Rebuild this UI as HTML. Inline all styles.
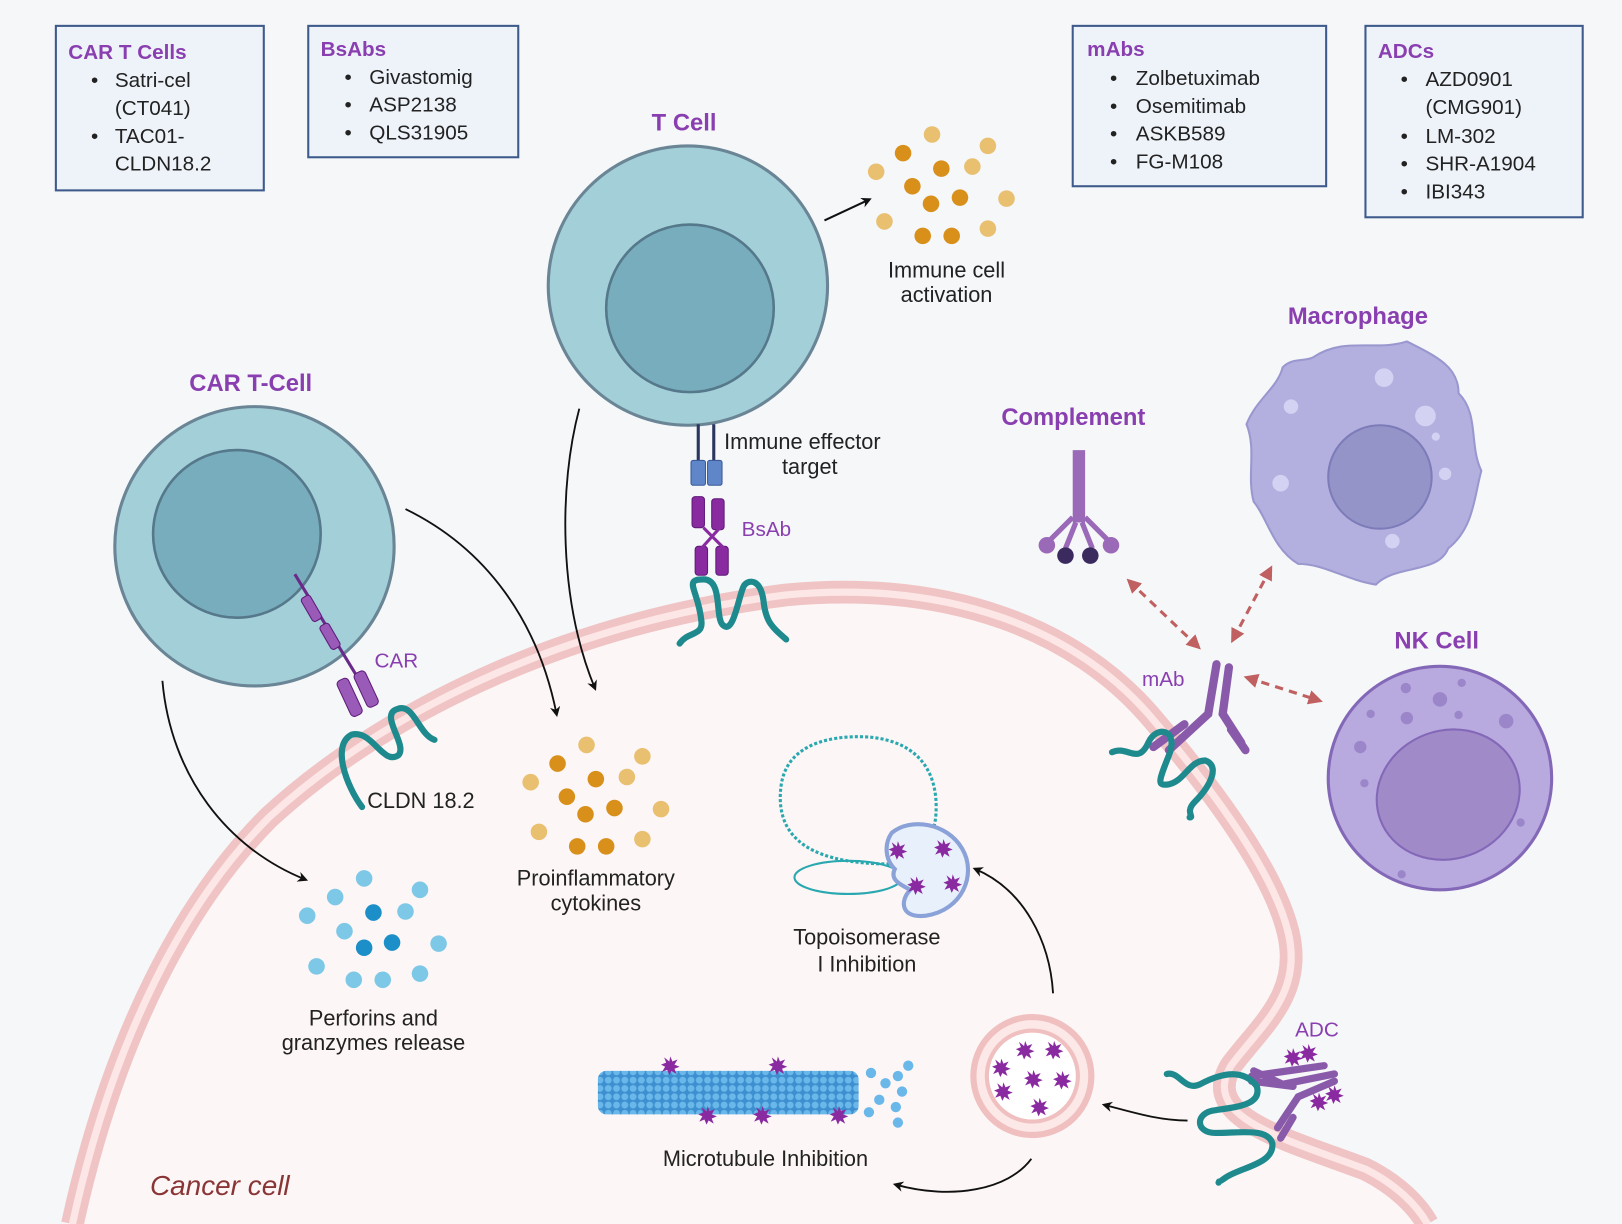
<!DOCTYPE html>
<html><head><meta charset="utf-8"><style>
html,body{margin:0;padding:0;background:#f5f7f9}
svg{display:block}
text{font-family:"Liberation Sans",sans-serif}
.t{font-size:21px;fill:#222}
.h{font-size:22px;font-weight:bold;fill:#8a3fb0}
.p{font-size:20px;fill:#8a3fb0}
</style></head><body>
<svg width="1622" height="1224" viewBox="0 0 1568 1183" preserveAspectRatio="none" xmlns="http://www.w3.org/2000/svg">
<defs>
<marker id="ar" markerWidth="10" markerHeight="10" refX="7" refY="5" orient="auto" markerUnits="userSpaceOnUse"><path d="M0,0 L10,5 L0,10 L3,5z" fill="#111"/></marker>
<marker id="rr" markerWidth="14" markerHeight="14" refX="10" refY="7" orient="auto-start-reverse" markerUnits="userSpaceOnUse"><path d="M0,0 L14,7 L0,14z" fill="#c06060"/></marker>
<pattern id="mt" width="8" height="8" patternUnits="userSpaceOnUse"><rect width="8" height="8" fill="#3d8fd0"/><circle cx="4" cy="4" r="3.3" fill="#6ab8ea"/></pattern>
<g id="star"><path d="M0,-9 L2,-4 L7,-6 L4,-1 L9,1 L4,3 L6,8 L1,5 L-1,9 L-3,4 L-8,6 L-5,1 L-9,-1 L-4,-3 L-6,-8 L-1,-4z" fill="#8a2aa0"/></g>
</defs>
<rect width="1568" height="1183" fill="#f5f7f9"/>
<path d="M70,1183 C110,1000 180,870 260,790 C380,680 560,600 760,575 C920,560 1040,610 1110,690 C1170,760 1230,840 1245,900 C1260,960 1220,990 1190,1030 C1160,1080 1240,1100 1320,1130 C1350,1145 1370,1165 1380,1183 Z" fill="#fdf6f6"/>
<path d="M70,1183 C110,1000 180,870 260,790 C380,680 560,600 760,575 C920,560 1040,610 1110,690 C1170,760 1230,840 1245,900 C1260,960 1220,990 1190,1030 C1160,1080 1240,1100 1320,1130 C1350,1145 1370,1165 1380,1183" fill="none" stroke="#f0c4c4" stroke-width="22"/>
<path d="M70,1183 C110,1000 180,870 260,790 C380,680 560,600 760,575 C920,560 1040,610 1110,690 C1170,760 1230,840 1245,900 C1260,960 1220,990 1190,1030 C1160,1080 1240,1100 1320,1130 C1350,1145 1370,1165 1380,1183" fill="none" stroke="#fce6e6" stroke-width="7"/>
<text x="145" y="1155" style="font-size:27px;font-style:italic;fill:#8a3535">Cancer cell</text>

<g stroke="#3d5a8a" stroke-width="2" fill="#eef3fa">
<rect x="54" y="25" width="201" height="159"/><rect x="298" y="25" width="203" height="127"/>
<rect x="1037" y="25" width="245" height="155"/><rect x="1320" y="25" width="210" height="185"/>
</g>
<text x="66" y="57" class="h" style="font-size:20px">CAR T Cells</text>
<g class="t" style="font-size:20px"><text x="88" y="84">•</text><text x="111" y="84">Satri-cel</text><text x="111" y="111">(CT041)</text><text x="88" y="138">•</text><text x="111" y="138">TAC01-</text><text x="111" y="165">CLDN18.2</text></g>
<text x="310" y="54" class="h" style="font-size:20px">BsAbs</text>
<g class="t" style="font-size:20px"><text x="333" y="81">•</text><text x="357" y="81">Givastomig</text><text x="333" y="108">•</text><text x="357" y="108">ASP2138</text><text x="333" y="135">•</text><text x="357" y="135">QLS31905</text></g>
<text x="1051" y="54" class="h" style="font-size:20px">mAbs</text>
<g class="t" style="font-size:20px"><text x="1073" y="82">•</text><text x="1098" y="82">Zolbetuximab</text><text x="1073" y="109">•</text><text x="1098" y="109">Osemitimab</text><text x="1073" y="136">•</text><text x="1098" y="136">ASKB589</text><text x="1073" y="163">•</text><text x="1098" y="163">FG-M108</text></g>
<text x="1332" y="56" class="h" style="font-size:20px">ADCs</text>
<g class="t" style="font-size:20px"><text x="1354" y="83">•</text><text x="1378" y="83">AZD0901</text><text x="1378" y="110">(CMG901)</text><text x="1354" y="138">•</text><text x="1378" y="138">LM-302</text><text x="1354" y="165">•</text><text x="1378" y="165">SHR-A1904</text><text x="1354" y="192">•</text><text x="1378" y="192">IBI343</text></g>

<text x="630" y="126" class="h" style="font-size:23px">T Cell</text>
<circle cx="665" cy="276" r="135" fill="#a3cfd9" stroke="#6a8595" stroke-width="3"/>
<circle cx="667" cy="298" r="81" fill="#78adbd" stroke="#55788a" stroke-width="2.5"/>
<path d="M797,213 L840,193" stroke="#111" stroke-width="2" marker-end="url(#ar)"/>
<g fill="#e9bf70"><circle cx="901" cy="130" r="8"/><circle cx="955" cy="141" r="8"/><circle cx="847" cy="166" r="8"/><circle cx="940" cy="161" r="8"/><circle cx="973" cy="192" r="8"/><circle cx="855" cy="214" r="8"/><circle cx="955" cy="221" r="8"/></g>
<g fill="#d8901a"><circle cx="873" cy="148" r="8"/><circle cx="910" cy="163" r="8"/><circle cx="882" cy="180" r="8"/><circle cx="928" cy="191" r="8"/><circle cx="900" cy="197" r="8"/><circle cx="892" cy="228" r="8"/><circle cx="920" cy="228" r="8"/></g>
<text x="915" y="268" class="t" text-anchor="middle">Immune cell</text><text x="915" y="292" class="t" text-anchor="middle">activation</text>
<path d="M675,410 V445 M690,410 V445" stroke="#2a3560" stroke-width="3"/>
<rect x="668" y="445" width="14" height="24" rx="2" fill="#5e86c8" stroke="#3a5a98"/><rect x="684" y="445" width="14" height="24" rx="2" fill="#5e86c8" stroke="#3a5a98"/>
<text x="700" y="434" class="t">Immune effector</text><text x="756" y="458" class="t">target</text>
<g fill="#8a2aa0" stroke="#5e1a78"><rect x="669" y="480" width="12" height="30" rx="3"/><rect x="688" y="482" width="12" height="30" rx="3"/><rect x="672" y="528" width="12" height="28" rx="3"/><rect x="692" y="528" width="12" height="28" rx="3"/></g>
<path d="M680,510 L700,530 M696,510 L678,530" stroke="#8a2aa0" stroke-width="3"/>
<text x="717" y="518" class="p">BsAb</text>
<path d="M657,622 C665,610 680,615 678,600 C675,570 660,560 680,560 C700,560 690,600 700,605 C710,612 715,570 720,565 C725,560 735,560 738,580 C740,600 745,605 760,618" fill="none" stroke="#1e8a8e" stroke-width="6" stroke-linecap="round"/>

<text x="183" y="378" class="h" style="font-size:23px">CAR T-Cell</text>
<circle cx="246" cy="528" r="135" fill="#a3cfd9" stroke="#6a8595" stroke-width="3"/>
<circle cx="229" cy="516" r="81" fill="#78adbd" stroke="#55788a" stroke-width="2.5"/>
<path d="M285,555 L355,670" stroke="#6a2a8a" stroke-width="3"/>
<g fill="#9a5ab8" stroke="#5e1a78"><rect x="296" y="575" width="10" height="26" rx="3" transform="rotate(-30 301 588)"/><rect x="314" y="602" width="10" height="26" rx="3" transform="rotate(-30 319 615)"/><rect x="332" y="655" width="12" height="38" rx="4" transform="rotate(-25 338 674)"/><rect x="348" y="648" width="12" height="36" rx="4" transform="rotate(-25 354 666)"/></g>
<text x="362" y="645" class="p">CAR</text>
<path d="M350,780 C335,760 320,720 340,710 C360,705 370,740 385,730 C395,720 365,690 385,685 C400,680 405,710 420,715" fill="none" stroke="#1e8a8e" stroke-width="6" stroke-linecap="round"/>
<text x="355" y="781" class="t">CLDN 18.2</text>

<path d="M392,492 C470,530 520,600 538,690" fill="none" stroke="#111" stroke-width="1.8" marker-end="url(#ar)"/>
<path d="M560,395 C540,470 540,580 575,665" fill="none" stroke="#111" stroke-width="1.8" marker-end="url(#ar)"/>
<path d="M157,658 C165,750 220,820 295,850" fill="none" stroke="#111" stroke-width="1.8" marker-end="url(#ar)"/>
<g fill="#e9bf70"><circle cx="567" cy="720" r="8"/><circle cx="621" cy="731" r="8"/><circle cx="513" cy="756" r="8"/><circle cx="606" cy="751" r="8"/><circle cx="639" cy="782" r="8"/><circle cx="521" cy="804" r="8"/><circle cx="621" cy="811" r="8"/></g>
<g fill="#d8901a"><circle cx="539" cy="738" r="8"/><circle cx="576" cy="753" r="8"/><circle cx="548" cy="770" r="8"/><circle cx="594" cy="781" r="8"/><circle cx="566" cy="787" r="8"/><circle cx="558" cy="818" r="8"/><circle cx="586" cy="818" r="8"/></g>
<text x="576" y="856" class="t" text-anchor="middle">Proinflammatory</text><text x="576" y="880" class="t" text-anchor="middle">cytokines</text>
<g fill="#7cc8e6"><circle cx="352" cy="849" r="8"/><circle cx="406" cy="860" r="8"/><circle cx="297" cy="885" r="8"/><circle cx="392" cy="881" r="8"/><circle cx="424" cy="912" r="8"/><circle cx="306" cy="934" r="8"/><circle cx="406" cy="941" r="8"/><circle cx="342" cy="947" r="8"/><circle cx="370" cy="947" r="8"/><circle cx="324" cy="867" r="8"/><circle cx="333" cy="900" r="8"/></g>
<g fill="#1c8ec8"><circle cx="361" cy="882" r="8"/><circle cx="352" cy="916" r="8"/><circle cx="379" cy="911" r="8"/></g>
<text x="361" y="991" class="t" text-anchor="middle">Perforins and</text><text x="361" y="1015" class="t" text-anchor="middle">granzymes release</text>

<path d="M860,835 C770,835 750,800 755,760 C760,720 800,712 830,712 C870,712 905,730 905,780 C905,800 900,810 890,815" fill="none" stroke="#2aa8b0" stroke-width="3" stroke-dasharray="3 2"/>
<ellipse cx="820" cy="848" rx="52" ry="16" fill="none" stroke="#2aa8b0" stroke-width="2"/>
<path d="M862,805 C880,790 915,795 930,820 C945,845 930,880 895,885 C870,888 870,870 880,860 C870,855 860,850 865,840 C855,830 855,815 862,805z" fill="#e8f0fb" stroke="#8aa2d8" stroke-width="4"/>
<use href="#star" x="868" y="822"/><use href="#star" x="912" y="820"/><use href="#star" x="886" y="856"/><use href="#star" x="921" y="854"/>
<text x="838" y="913" class="t" text-anchor="middle">Topoisomerase</text><text x="838" y="939" class="t" text-anchor="middle">I Inhibition</text>

<circle cx="998" cy="1040" r="57" fill="#fde8e8" stroke="#f0c0c0" stroke-width="6"/>
<circle cx="998" cy="1040" r="44" fill="#fff" stroke="#f0c0c0" stroke-width="4"/>
<use href="#star" x="968" y="1032"/><use href="#star" x="991" y="1015"/><use href="#star" x="1019" y="1015"/><use href="#star" x="999" y="1043"/><use href="#star" x="1027" y="1044"/><use href="#star" x="970" y="1055"/><use href="#star" x="1005" y="1070"/>
<path d="M1018,960 C1015,910 990,860 943,840" fill="none" stroke="#111" stroke-width="1.8" marker-end="url(#ar)"/>
<path d="M997,1120 C975,1150 920,1160 866,1145" fill="none" stroke="#111" stroke-width="1.8" marker-end="url(#ar)"/>
<path d="M1148,1083 C1120,1083 1095,1075 1068,1068" fill="none" stroke="#111" stroke-width="1.8" marker-end="url(#ar)"/>

<rect x="578" y="1035" width="252" height="42" rx="8" fill="url(#mt)"/>
<g fill="#6ab8ea"><circle cx="842" cy="1037" r="5"/><circle cx="856" cy="1047" r="5"/><circle cx="868" cy="1040" r="5"/><circle cx="850" cy="1063" r="5"/><circle cx="866" cy="1070" r="5"/><circle cx="872" cy="1055" r="5"/><circle cx="878" cy="1030" r="5"/><circle cx="840" cy="1075" r="5"/><circle cx="868" cy="1085" r="5"/></g>
<use href="#star" x="648" y="1030"/><use href="#star" x="752" y="1030"/><use href="#star" x="684" y="1078"/><use href="#star" x="737" y="1078"/><use href="#star" x="811" y="1078"/>
<text x="740" y="1127" class="t" text-anchor="middle">Microtubule Inhibition</text>

<text x="968" y="411" class="h" style="font-size:23px">Complement</text>
<path d="M1039,435 V505 M1043,435 V505 M1047,435 V505" stroke="#9a6ab8" stroke-width="4"/>
<path d="M1037,500 L1012,525 M1049,500 L1074,525 M1040,505 L1030,530 M1046,505 L1056,530" stroke="#9a6ab8" stroke-width="5"/>
<circle cx="1012" cy="527" r="8" fill="#9a6ab8"/><circle cx="1074" cy="527" r="8" fill="#9a6ab8"/>
<circle cx="1030" cy="537" r="8" fill="#3a2a5e"/><circle cx="1054" cy="537" r="8" fill="#3a2a5e"/>

<text x="1245" y="313" class="h" style="font-size:23px">Macrophage</text>
<path d="M1270,345 C1300,325 1330,340 1360,330 C1390,345 1410,355 1410,380 C1430,400 1420,430 1432,455 C1425,480 1425,510 1400,530 C1390,555 1350,545 1330,565 C1300,560 1280,545 1255,545 C1230,530 1225,500 1212,485 C1205,460 1215,435 1205,410 C1215,385 1235,375 1240,355 C1250,345 1262,350 1270,345z" fill="#b3b0e0" stroke="#9a97cf" stroke-width="2"/>
<circle cx="1334" cy="461" r="50" fill="#9594c8" stroke="#7e7cb8" stroke-width="2"/>
<g fill="#d4d2f2"><circle cx="1338" cy="365" r="9"/><circle cx="1378" cy="402" r="10"/><circle cx="1248" cy="393" r="7"/><circle cx="1238" cy="467" r="8"/><circle cx="1397" cy="458" r="6"/><circle cx="1346" cy="523" r="7"/><circle cx="1388" cy="422" r="4"/></g>
<text x="1348" y="627" class="h" style="font-size:23px">NK Cell</text>
<circle cx="1392" cy="752" r="108" fill="#b8a9df" stroke="#8468b8" stroke-width="3"/>
<ellipse cx="1400" cy="768" rx="70" ry="62" fill="#a08ac8" stroke="#8468b8" stroke-width="2" transform="rotate(-20 1400 768)"/>
<g fill="#9a86c8"><circle cx="1359" cy="665" r="5"/><circle cx="1392" cy="676" r="7"/><circle cx="1413" cy="660" r="4"/><circle cx="1325" cy="690" r="4"/><circle cx="1360" cy="694" r="6"/><circle cx="1410" cy="691" r="4"/><circle cx="1315" cy="722" r="6"/><circle cx="1456" cy="697" r="7"/><circle cx="1319" cy="757" r="4"/><circle cx="1470" cy="795" r="4"/><circle cx="1355" cy="845" r="4"/></g>

<g stroke="#c06060" stroke-width="3" stroke-dasharray="8 6" fill="none">
<path d="M1158,625 L1092,562" marker-end="url(#rr)" marker-start="url(#rr)"/>
<path d="M1192,618 L1228,550" marker-end="url(#rr)" marker-start="url(#rr)"/>
<path d="M1206,655 L1275,677" marker-end="url(#rr)" marker-start="url(#rr)"/>
</g>

<text x="1104" y="663" class="p">mAb</text>
<g stroke="#8a5aaa" stroke-width="8" stroke-linecap="round" fill="none">
<path d="M1176,642 L1168,690 L1130,725"/><path d="M1188,645 L1182,690 L1200,718"/>
<path d="M1145,700 L1115,722"/><path d="M1190,705 L1204,725"/>
</g>
<path d="M1075,727 C1090,720 1100,740 1110,718 C1118,700 1140,705 1130,730 C1120,755 1118,760 1130,758 C1145,755 1150,735 1165,735 C1180,740 1170,760 1155,775 C1145,785 1155,790 1150,790" fill="none" stroke="#1e8a8e" stroke-width="6" stroke-linecap="round"/>

<text x="1252" y="1002" class="p">ADC</text>
<g stroke="#8a5aaa" stroke-width="7" stroke-linecap="round" fill="none">
<path d="M1210,1040 L1280,1030"/><path d="M1250,1050 L1210,1045"/><path d="M1212,1035 L1240,1048 L1290,1038"/>
<path d="M1290,1045 L1255,1060 L1235,1090"/><path d="M1250,1080 L1238,1100"/>
</g>
<use href="#star" x="1250" y="1022"/><use href="#star" x="1265" y="1018"/><use href="#star" x="1275" y="1065"/><use href="#star" x="1290" y="1058"/>
<path d="M1128,1038 C1140,1035 1145,1055 1160,1048 C1175,1040 1200,1030 1215,1050 C1220,1068 1195,1070 1175,1073 C1155,1075 1155,1095 1175,1095 C1200,1095 1225,1090 1230,1105 C1232,1125 1200,1128 1185,1138 C1175,1145 1180,1140 1178,1143" fill="none" stroke="#1e8a8e" stroke-width="6" stroke-linecap="round"/>
</svg>
</body></html>
